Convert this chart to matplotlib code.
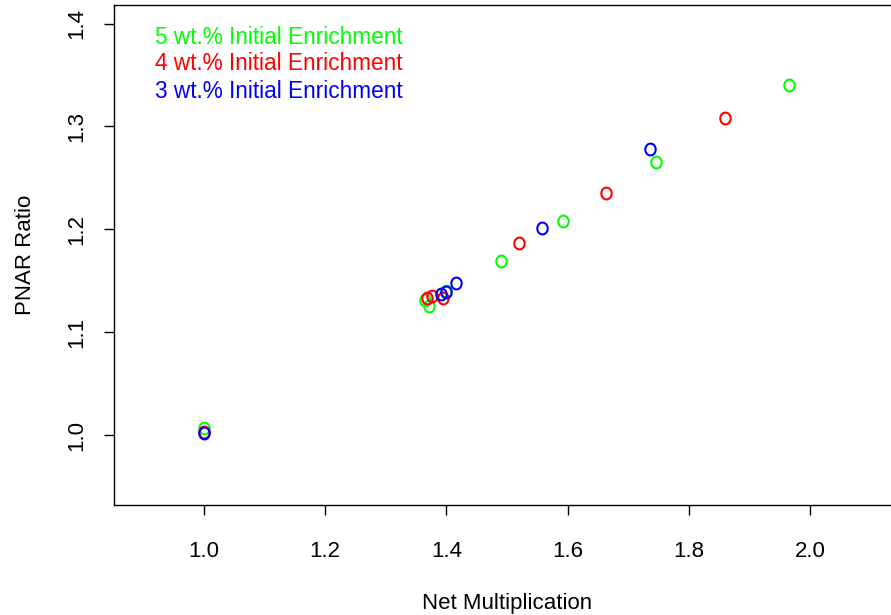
import numpy as np
import matplotlib
matplotlib.use("Agg")
import matplotlib.pyplot as plt
from matplotlib.path import Path

# net multiplication vs PNAR ratio, by initial enrichment
x5 = [1.000, 1.364, 1.372, 1.400, 1.490, 1.592, 1.745, 1.965]
y5 = [1.007, 1.131, 1.125, 1.140, 1.169, 1.208, 1.265, 1.340]

x4 = [1.000, 1.368, 1.376, 1.395, 1.520, 1.663, 1.860]
y4 = [1.003, 1.133, 1.135, 1.133, 1.187, 1.235, 1.308]

x3 = [1.000, 1.392, 1.400, 1.416, 1.557, 1.735]
y3 = [1.002, 1.137, 1.139, 1.148, 1.201, 1.278]

labels = ["5 wt.% Initial Enrichment", "4 wt.% Initial Enrichment",
          "3 wt.% Initial Enrichment"]
colors = ["#00ff00", "#ff0000", "#0000ff"]

xticks = [1.0, 1.2, 1.4, 1.6, 1.8, 2.0]
yticks = [1.0, 1.1, 1.2, 1.3, 1.4]

plt.rcParams["font.family"] = ["Liberation Sans", "DejaVu Sans"]
fs = 16

# letter-o like marker, a bit taller than wide
t = np.linspace(0, 2 * np.pi, 60)
omark = Path(np.column_stack([0.88 * np.cos(t), np.sin(t)]))

fig = plt.figure(figsize=(8.91, 6.15), dpi=100)
ax = fig.add_axes([114 / 891, 110 / 615, 786 / 891, 500 / 615])

for xs, ys, c in zip([x5, x4, x3], [y5, y4, y3], colors):
    ax.plot(xs, ys, linestyle="none", marker=omark, markersize=8.5,
            markerfacecolor="none", markeredgecolor=c, markeredgewidth=1.5)

ax.set_xlim(0.852, 2.148)
ax.set_ylim(0.932, 1.418)
ax.set_xticks(xticks)
ax.set_xticklabels(["%.1f" % v for v in xticks])
ax.set_yticks(yticks)
ax.set_yticklabels(["%.1f" % v for v in yticks], rotation=90, va="center")
ax.tick_params(direction="out", length=7, width=1, labelsize=fs)
ax.tick_params(axis="x", pad=19)
ax.tick_params(axis="y", pad=12)
ax.spines["right"].set_visible(False)
for s in ["left", "top", "bottom"]:
    ax.spines[s].set_linewidth(1.0)

ax.set_xlabel("Net Multiplication", fontsize=fs, labelpad=22)
ax.set_ylabel("PNAR Ratio", fontsize=fs, labelpad=22)

for i, (lab, c) in enumerate(zip(labels, colors)):
    ax.text(41 / 786, 1 - (32 + 27 * i) / 500, lab,
            color=c, fontsize=16.3, transform=ax.transAxes, va="center")

fig.savefig("out.png", dpi=100)
